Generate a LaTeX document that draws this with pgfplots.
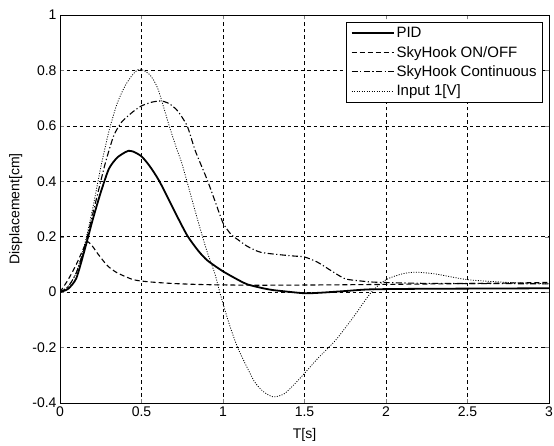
\documentclass[border=0pt]{standalone}
\usepackage{fontspec}
\setmainfont{Liberation Sans}
\usepackage{pgfplots}
\pgfplotsset{compat=1.18}

\begin{document}
\begin{tikzpicture}
\useasboundingbox (-60pt,-42pt) rectangle (494pt,403pt);
\begin{axis}[
  scale only axis, width=489pt, height=388pt,
  xmin=0, xmax=3, ymin=-0.4, ymax=1,
  xtick={0,0.5,1,1.5,2,2.5,3},
  ytick={-0.4,-0.2,0,0.2,0.4,0.6,0.8,1},
  /pgf/number format/assume math mode=true,
  /pgf/number format/fixed,
  tick label style={font=\fontsize{14}{16}\selectfont},
  label style={font=\fontsize{14}{16}\selectfont},
  tick align=inside, major tick length=4pt,
  axis line style={line width=0.8pt},
  grid=major,
  major grid style={black, line width=0.7pt, dash pattern=on 3.5pt off 3pt},
  xlabel={T[s]}, ylabel={Displacement[cm]},
  xlabel style={at={(axis description cs:0.5,-0.055)}, anchor=north},
  ylabel style={at={(axis description cs:-0.07,0.5)}, anchor=south},
  legend image code/.code={\draw[#1] (0pt,0pt) -- (42pt,0pt);},
  legend style={font=\fontsize{15}{17}\selectfont, draw=black, line width=0.8pt,
    at={(1,1)}, xshift=-6pt, yshift=-7pt, anchor=north east,
    cells={anchor=west}, inner xsep=4pt, inner ysep=3pt, row sep=3pt},
  every axis plot/.append style={smooth, tension=0.4},
]
\addplot[black, line width=1.8pt] coordinates {
(0,0)(0.05,0.012)(0.1,0.05)(0.15,0.15)(0.2,0.26)(0.25,0.36)(0.3,0.445)(0.35,0.485)
(0.4,0.505)(0.42,0.51)(0.45,0.507)(0.5,0.49)(0.55,0.455)(0.61,0.40)(0.7,0.295)
(0.78,0.205)(0.85,0.148)(0.905,0.114)(1.0,0.075)(1.1,0.042)(1.15,0.028)(1.23,0.016)
(1.3,0.008)(1.36,0.004)(1.5,-0.004)(1.6,-0.002)(1.75,0.004)(1.9,0.01)(2.2,0.012)
(2.6,0.013)(3,0.014)};
\addlegendentry{PID}
\addplot[black, line width=1.1pt, dash pattern=on 5pt off 3pt] coordinates {
(0,0)(0.05,0.045)(0.1,0.1)(0.15,0.165)(0.17,0.182)(0.2,0.165)(0.23,0.14)(0.29,0.096)
(0.35,0.07)(0.45,0.045)(0.55,0.037)(0.7,0.031)(0.9,0.027)(1.2,0.025)(1.6,0.026)
(2,0.028)(2.5,0.031)(3,0.035)};
\addlegendentry{SkyHook ON/OFF}
\addplot[black, line width=1.1pt, dash pattern=on 6pt off 2.5pt on 1.2pt off 2.5pt] coordinates {
(0,0)(0.05,0.02)(0.1,0.07)(0.15,0.16)(0.2,0.28)(0.25,0.40)(0.28,0.47)(0.33,0.565)
(0.38,0.615)(0.45,0.652)(0.5,0.672)(0.56,0.685)(0.62,0.69)(0.67,0.68)(0.72,0.655)
(0.78,0.6)(0.83,0.51)(0.9,0.41)(0.95,0.33)(1.0,0.25)(1.05,0.208)(1.09,0.19)
(1.15,0.165)(1.23,0.144)(1.35,0.135)(1.44,0.13)(1.5,0.127)(1.58,0.108)(1.67,0.075)
(1.75,0.048)(1.85,0.04)(1.93,0.036)(2.2,0.032)(2.6,0.031)(3,0.03)};
\addlegendentry{SkyHook Continuous}
\addplot[black, line width=0.8pt, dash pattern=on 1pt off 1.5pt] coordinates {
(0,0)(0.05,0.02)(0.1,0.07)(0.15,0.17)(0.2,0.3)(0.25,0.45)(0.3,0.58)(0.35,0.68)
(0.4,0.745)(0.45,0.788)(0.49,0.805)(0.55,0.785)(0.6,0.735)(0.67,0.6)(0.72,0.51)
(0.75,0.46)(0.84,0.27)(0.9,0.15)(0.95,0.067)(0.98,0.0)(1.03,-0.1)(1.09,-0.2)
(1.19,-0.32)(1.25,-0.36)(1.31,-0.378)(1.38,-0.365)(1.48,-0.306)(1.58,-0.24)
(1.69,-0.174)(1.8,-0.09)(1.91,0)(2.0,0.045)(2.1,0.066)(2.18,0.072)(2.3,0.066)
(2.5,0.045)(2.75,0.035)(3,0.03)};
\addlegendentry{Input 1[V]}
\end{axis}
\end{tikzpicture}
\end{document}
